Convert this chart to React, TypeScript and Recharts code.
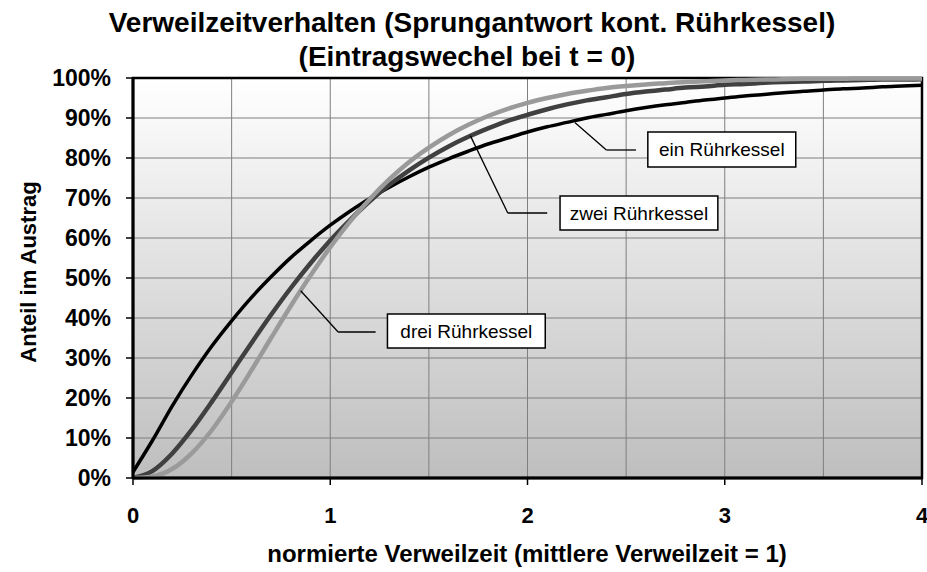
import React from 'react';
import {
  LineChart,
  Line,
  XAxis,
  YAxis,
  CartesianGrid,
  ReferenceArea,
  ReferenceLine,
} from 'recharts';

// normierte Verweilzeit
const tValues = [
  0, 0.1, 0.2, 0.3, 0.4, 0.5, 0.6, 0.7, 0.8, 0.9,
  1.0, 1.1, 1.2, 1.3, 1.4, 1.5, 1.6, 1.7, 1.8, 1.9,
  2.0, 2.1, 2.2, 2.3, 2.4, 2.5, 2.6, 2.7, 2.8, 2.9,
  3.0, 3.1, 3.2, 3.3, 3.4, 3.5, 3.6, 3.7, 3.8, 3.9,
  4.0,
];

// Anteil im Austrag (%)
const einValues = [
  1.5, 9.5, 18.1, 25.9, 33.0, 39.3, 45.1, 50.3, 55.1, 59.3,
  63.2, 66.7, 69.9, 72.7, 75.3, 77.7, 79.8, 81.7, 83.5, 85.0,
  86.5, 87.8, 88.9, 90.0, 90.9, 91.8, 92.6, 93.3, 93.9, 94.5,
  95.0, 95.5, 95.9, 96.3, 96.7, 97.0, 97.3, 97.5, 97.8, 98.0,
  98.2,
];
const zweiValues = [
  0, 1.8, 6.2, 12.2, 19.1, 26.4, 33.7, 40.8, 47.5, 53.7,
  59.4, 64.5, 69.2, 73.3, 76.9, 80.1, 82.9, 85.3, 87.4, 89.3,
  90.8, 92.2, 93.4, 94.4, 95.2, 96.0, 96.6, 97.1, 97.6, 97.9,
  98.3, 98.5, 98.8, 99.0, 99.1, 99.3, 99.4, 99.5, 99.6, 99.6,
  99.7,
];
const dreiValues = [
  0, 0.4, 2.3, 6.3, 12.0, 19.1, 26.9, 35.0, 43.0, 50.6,
  57.7, 64.1, 69.7, 74.7, 79.0, 82.6, 85.7, 88.3, 90.5, 92.3,
  93.8, 95.0, 96.0, 96.8, 97.5, 98.0, 98.4, 98.7, 99.0, 99.2,
  99.4, 99.5, 99.6, 99.7, 99.8, 99.8, 99.8, 99.9, 99.9, 99.9,
  99.9,
];

const xTicks = [0, 1, 2, 3, 4];
const xGrid = [0.5, 1, 1.5, 2, 2.5, 3, 3.5];
const yTicks = [0, 10, 20, 30, 40, 50, 60, 70, 80, 90, 100];

const seriesNames = ['ein Rührkessel', 'zwei Rührkessel', 'drei Rührkessel'];

const titleLines = [
  'Verweilzeitverhalten (Sprungantwort kont. Rührkessel)',
  '(Eintragswechel bei t = 0)',
];
const xTitle = 'normierte Verweilzeit (mittlere Verweilzeit = 1)';
const yTitle = 'Anteil im Austrag';

const data = tValues.map((t, i) => ({
  t,
  ein: einValues[i],
  zwei: zweiValues[i],
  drei: dreiValues[i],
}));

const FONT = '"Liberation Sans", Arial, sans-serif';
const Y_LABEL_RIGHT = 111;

// annotation placement (data coordinates)
const annotations = [
  {
    name: seriesNames[0],
    box: { x1: 2.61, x2: 3.36, y1: 77.75, y2: 86.5 },
    leader: [
      [2.24, 88.9],
      [2.40, 82.0],
      [2.55, 82.0],
    ],
  },
  {
    name: seriesNames[1],
    box: { x1: 2.165, x2: 2.965, y1: 62.0, y2: 70.5 },
    leader: [
      [1.71, 85.6],
      [1.90, 66.25],
      [2.10, 66.25],
    ],
  },
  {
    name: seriesNames[2],
    box: { x1: 1.29, x2: 2.09, y1: 32.5, y2: 41.0 },
    leader: [
      [0.85, 46.8],
      [1.04, 36.5],
      [1.23, 36.5],
    ],
  },
];

const verticalGen = (props: any) => {
  const xAxis = props?.xAxis;
  if (xAxis && typeof xAxis.scale === 'function') {
    return xGrid.map((v) => xAxis.scale(v));
  }
  const off = props.offset;
  return xGrid.map((v) => off.left + (v / 4) * off.width);
};

const YTick = (props: any) => {
  const { y, payload } = props;
  return (
    <text
      x={Y_LABEL_RIGHT}
      y={y}
      dy="0.36em"
      textAnchor="end"
      fontFamily={FONT}
      fontWeight={700}
      fontSize={23}
      fill="#000"
    >
      {`${payload.value}%`}
    </text>
  );
};

const XTick = (props: any) => {
  const { x, y, payload } = props;
  return (
    <text
      x={x}
      y={y}
      dy="0.72em"
      textAnchor="middle"
      fontFamily={FONT}
      fontWeight={700}
      fontSize={22}
      fill="#000"
    >
      {String(payload.value)}
    </text>
  );
};

export default function App() {
  return (
    <div style={{ position: 'absolute', left: 0, top: 0, width: 927, height: 572, background: '#fff' }}>
      <LineChart
        width={927}
        height={572}
        data={data}
        margin={{ top: 78, right: 5, bottom: 0, left: 0 }}
      >
        <defs>
          <linearGradient id="bgGrad" x1="0" y1="0" x2="0" y2="1">
            <stop offset="0%" stopColor="#ffffff" />
            <stop offset="100%" stopColor="#bebebe" />
          </linearGradient>
        </defs>
        <CartesianGrid
          fill="url(#bgGrad)"
          fillOpacity={1}
          stroke="#7f7f7f"
          strokeWidth={1}
          verticalCoordinatesGenerator={verticalGen}
        />
        <XAxis
          dataKey="t"
          type="number"
          domain={[0, 4]}
          ticks={xTicks}
          height={94}
          tickSize={7}
          tickMargin={22}
          axisLine={{ stroke: '#000', strokeWidth: 3 }}
          tickLine={{ stroke: '#000', strokeWidth: 1.5 }}
          tick={<XTick />}
          interval={0}
        />
        <YAxis
          type="number"
          domain={[0, 100]}
          ticks={yTicks}
          width={133}
          tickSize={7}
          tickMargin={14}
          interval={0}
          axisLine={{ stroke: '#000', strokeWidth: 3 }}
          tickLine={{ stroke: '#000', strokeWidth: 1.5 }}
          tick={<YTick />}
        />
        <ReferenceArea x1={0} x2={4} y1={0} y2={100} fill="none" stroke="#000" strokeWidth={2.5} />
        <Line
          type="monotone"
          dataKey="ein"
          name={seriesNames[0]}
          stroke="#000000"
          strokeWidth={3.5}
          dot={false}
          isAnimationActive={false}
        />
        <Line
          type="monotone"
          dataKey="zwei"
          name={seriesNames[1]}
          stroke="#404040"
          strokeWidth={4.5}
          dot={false}
          isAnimationActive={false}
        />
        <Line
          type="monotone"
          dataKey="drei"
          name={seriesNames[2]}
          stroke="#9a9a9a"
          strokeWidth={4.5}
          dot={false}
          isAnimationActive={false}
        />
        {annotations.map((a) =>
          a.leader.slice(0, -1).map((p, j) => (
            <ReferenceLine
              key={`${a.name}-l${j}`}
              segment={[
                { x: p[0], y: p[1] },
                { x: a.leader[j + 1][0], y: a.leader[j + 1][1] },
              ]}
              stroke="#000"
              strokeWidth={1.3}
            />
          ))
        )}
        {annotations.map((a) => (
          <ReferenceArea
            key={`${a.name}-box`}
            x1={a.box.x1}
            x2={a.box.x2}
            y1={a.box.y1}
            y2={a.box.y2}
            fill="#ffffff"
            fillOpacity={1}
            stroke="#000"
            strokeWidth={1.5}
            label={{
              value: a.name,
              position: 'center',
              fill: '#000',
              fontSize: 19,
              fontFamily: FONT,
            }}
          />
        ))}
      </LineChart>
      <svg
        width={927}
        height={572}
        style={{ position: 'absolute', left: 0, top: 0, pointerEvents: 'none' }}
      >
        <text x={472} y={32} textAnchor="middle" fontFamily={FONT} fontWeight={700} fontSize={28} fill="#000">
          {titleLines[0]}
        </text>
        <text x={467} y={66} textAnchor="middle" fontFamily={FONT} fontWeight={700} fontSize={28} fill="#000">
          {titleLines[1]}
        </text>
        <text x={527} y={562} textAnchor="middle" fontFamily={FONT} fontWeight={700} fontSize={24} fill="#000">
          {xTitle}
        </text>
        <text
          x={0}
          y={0}
          transform="translate(36,272) rotate(-90)"
          textAnchor="middle"
          fontFamily={FONT}
          fontWeight={700}
          fontSize={22}
          fill="#000"
        >
          {yTitle}
        </text>
      </svg>
    </div>
  );
}
